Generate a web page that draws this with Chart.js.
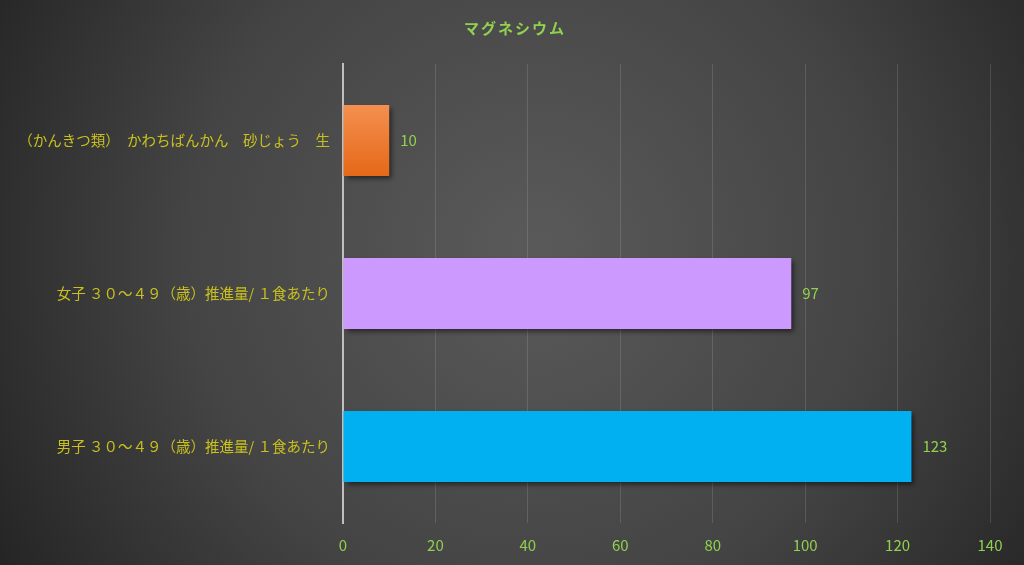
<!DOCTYPE html>
<html><head><meta charset="utf-8">
<script src="https://cdn.jsdelivr.net/npm/chart.js@4"></script>
<style>html,body{margin:0;padding:0;background:#333;}#wrap{width:1024px;height:565px;position:relative;}</style>
</head><body><div id="wrap"><canvas id="c" width="1024" height="565"></canvas></div>
<script>
const title = 'マグネシウム';
const categories = [
  '（かんきつ類）　かわちばんかん　砂じょう　生',
  '女子 ３０～４９（歳）推進量/ １食あたり',
  '男子 ３０～４９（歳）推進量/ １食あたり'
];
const values = [10, 97, 123];
const xTicks = [0, 20, 40, 60, 80, 100, 120, 140];

const FONT = '"Noto Sans CJK JP", "Noto Sans", sans-serif';

const bgPlugin = {
  id: 'bg',
  beforeDraw(chart) {
    const ctx = chart.ctx, w = chart.width, h = chart.height;
    ctx.save();
    const g = ctx.createRadialGradient(w*0.52, h*0.45, 20, w*0.52, h*0.45, w*0.6);
    g.addColorStop(0, '#595959');
    g.addColorStop(0.55, '#444444');
    g.addColorStop(1, '#252525');
    ctx.fillStyle = g;
    ctx.fillRect(0, 0, w, h);
    ctx.restore();
  }
};

const titlePlugin = {
  id: 'ttl',
  afterDraw(chart) {
    const ctx = chart.ctx;
    ctx.save();
    ctx.fillStyle = '#92d050';
    ctx.font = 'bold 15px ' + FONT;
    try { ctx.letterSpacing = '2px'; } catch (e) {}
    ctx.textAlign = 'center';
    ctx.textBaseline = 'middle';
    ctx.fillText(title, 515, 28);
    ctx.restore();
  }
};

const shadowPlugin = {
  id: 'shadow',
  beforeDatasetDraw(chart) {
    const ctx = chart.ctx;
    ctx.save();
    ctx.shadowColor = 'rgba(0,0,0,0.55)';
    ctx.shadowBlur = 5;
    ctx.shadowOffsetX = 3;
    ctx.shadowOffsetY = 3;
  },
  afterDatasetDraw(chart) { chart.ctx.restore(); }
};

const labelPlugin = {
  id: 'vlabels',
  afterDatasetsDraw(chart) {
    const ctx = chart.ctx;
    const meta = chart.getDatasetMeta(0);
    ctx.save();
    ctx.fillStyle = '#92d050';
    ctx.font = '15px ' + FONT;
    ctx.textAlign = 'left';
    ctx.textBaseline = 'middle';
    meta.data.forEach((bar, i) => {
      ctx.fillText(String(values[i]), bar.x + 11, bar.y);
    });
    ctx.restore();
  }
};

function barColor(c) {
  const i = c.dataIndex;
  if (i === 0) {
    const chart = c.chart;
    const y = chart.scales.y;
    if (!y || !chart.chartArea) return '#ee7a30';
    const cy = y.getPixelForValue(0);
    const half = 36;
    const g = chart.ctx.createLinearGradient(0, cy - half, 0, cy + half);
    g.addColorStop(0, '#f49050');
    g.addColorStop(1, '#e56818');
    return g;
  }
  return i === 1 ? '#cc99ff' : '#00b0f0';
}

new Chart(document.getElementById('c'), {
  type: 'bar',
  data: {
    labels: categories,
    datasets: [{
      data: values,
      backgroundColor: barColor,
      borderWidth: 0,
      barPercentage: 0.465,
      categoryPercentage: 1.0
    }]
  },
  options: {
    indexAxis: 'y',
    responsive: false,
    animation: false,
    devicePixelRatio: 1,
    layout: { padding: { left: 0, right: 34, top: 64, bottom: 0 } },
    plugins: {
      legend: { display: false },
      tooltip: { enabled: false },
      title: { display: false }
    },
    scales: {
      x: {
        min: 0, max: 140,
        afterBuildTicks(s) { s.ticks = xTicks.map(v => ({ value: v })); },
        afterFit(s) { s.height = 42; },
        ticks: { color: '#92d050', font: { family: FONT, size: 15 }, padding: 13 },
        grid: { color: 'rgba(255,255,255,0.13)', lineWidth: 1, drawTicks: false },
        border: { display: false }
      },
      y: {
        afterFit(s) { s.width = 343; },
        ticks: { color: '#c8c01e', font: { family: FONT, size: 14.5 }, padding: 13 },
        grid: { display: false, drawTicks: false },
        border: { display: true, color: '#bfbfbf', width: 2 }
      }
    }
  },
  plugins: [bgPlugin, shadowPlugin, labelPlugin, titlePlugin]
});
</script></body></html>
